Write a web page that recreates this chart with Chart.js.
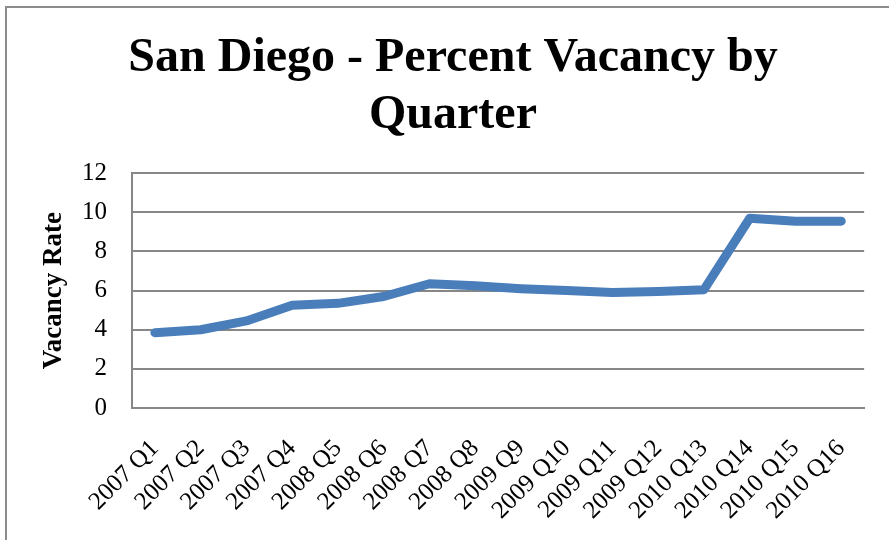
<!DOCTYPE html>
<html>
<head>
<meta charset="utf-8">
<script src="https://cdn.jsdelivr.net/npm/chart.js@4"></script>
<style>
  html, body { margin: 0; padding: 0; background: #fff; overflow: hidden; }
  #wrap { position: relative; width: 889px; height: 540px; }
  #frame { position: absolute; left: 5px; top: 6px; width: 1000px; height: 1000px;
           border-left: 2px solid #8c8c8c; border-top: 2px solid #8c8c8c; }
  canvas { position: absolute; left: 0; top: 0; }
</style>
</head>
<body>
<div id="wrap">
  <div id="frame"></div>
  <canvas id="vacancyChart" width="889" height="540"></canvas>
</div>
<script>
// Chart data
const quarters = ['2007 Q1', '2007 Q2', '2007 Q3', '2007 Q4', '2008 Q5', '2008 Q6', '2008 Q7', '2008 Q8',
                  '2009 Q9', '2009 Q10', '2009 Q11', '2009 Q12', '2010 Q13', '2010 Q14', '2010 Q15', '2010 Q16'];
const vacancy = [3.85, 4.0, 4.45, 5.25, 5.35, 5.7, 6.35, 6.25, 6.1, 6.0, 5.9, 5.95, 6.05, 9.7, 9.55, 9.55];
const yTicks = [0, 2, 4, 6, 8, 10, 12];

const serif = "'Liberation Serif', 'DejaVu Serif', serif";
const gridGray = '#878787';

const ctx = document.getElementById('vacancyChart').getContext('2d');

new Chart(ctx, {
  type: 'line',
  data: {
    labels: quarters,
    datasets: [{
      label: 'Vacancy Rate',
      data: vacancy,
      borderColor: '#4a7ebb',
      backgroundColor: '#4a7ebb',
      borderWidth: 9,
      borderCapStyle: 'round',
      borderJoinStyle: 'round',
      pointRadius: 0,
      tension: 0
    }]
  },
  options: {
    responsive: false,
    animation: false,
    // left/right padding also centres the title where the original has it
    layout: { padding: { top: 0, right: 17, bottom: 0, left: 34 } },
    plugins: {
      legend: { display: false },
      tooltip: { enabled: false },
      title: {
        display: true,
        text: ['San Diego - Percent Vacancy by', 'Quarter'],
        color: '#000',
        font: { family: serif, size: 48, weight: 'bold', lineHeight: 1.19 },
        padding: { top: 30, bottom: 29 }
      }
    },
    scales: {
      x: {
        offset: true,
        grid: { display: false, drawTicks: false },
        border: { display: true, color: gridGray, width: 2 },
        ticks: {
          color: '#000',
          font: { family: serif, size: 25 },
          maxRotation: 45,
          minRotation: 45,
          autoSkip: false,
          padding: 26
        },
        afterFit: (scale) => { scale.height = 132; }
      },
      y: {
        min: 0,
        max: 12,
        afterBuildTicks: (scale) => { scale.ticks = yTicks.map(v => ({ value: v })); },
        grid: { color: gridGray, lineWidth: 2, drawTicks: false },
        border: { display: true, color: gridGray, width: 2 },
        ticks: {
          color: '#000',
          font: { family: serif, size: 25 },
          padding: 25
        },
        title: {
          display: true,
          text: 'Vacancy Rate',
          color: '#000',
          font: { family: serif, size: 27, weight: 'bold' },
          padding: { top: 4, bottom: 0 }
        },
        afterFit: (scale) => { scale.width = 98; }
      }
    }
  }
});
</script>
</body>
</html>
